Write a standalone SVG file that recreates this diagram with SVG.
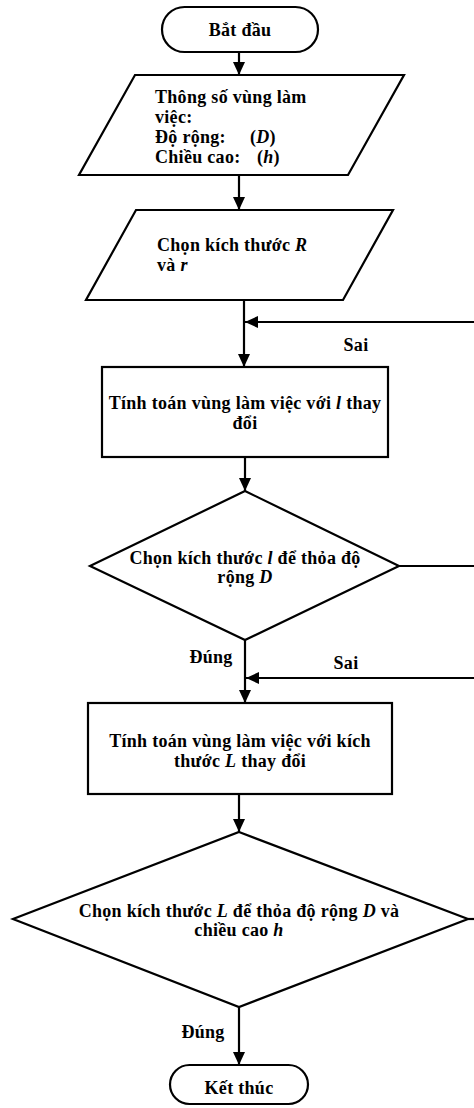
<svg xmlns="http://www.w3.org/2000/svg" width="474" height="1108" viewBox="0 0 474 1108">
<defs>
<marker id="arr" markerUnits="userSpaceOnUse" markerWidth="14" markerHeight="12" refX="13" refY="6" orient="auto">
<path d="M0,0 L13,6 L0,12 Z" fill="#000"/>
</marker>
<style>
.shape{fill:#fff;stroke:#000;stroke-width:2.2}
.line{fill:none;stroke:#000;stroke-width:2.2}
text{font-family:"Liberation Serif","Times New Roman",serif;font-weight:bold;font-size:18px;letter-spacing:0.3px;fill:#000}
.c{text-anchor:middle}
.i{font-style:italic}
</style>
</defs>
<rect width="474" height="1108" fill="#fff"/>
<g id="connectors">
<line class="line" x1="239" y1="52" x2="239" y2="75" marker-end="url(#arr)"/>
<line class="line" x1="239" y1="175" x2="239" y2="210" marker-end="url(#arr)"/>
<line class="line" x1="244" y1="300" x2="244" y2="367" marker-end="url(#arr)"/>
<line class="line" x1="474" y1="322" x2="245" y2="322" marker-end="url(#arr)"/>
<line class="line" x1="245" y1="457" x2="245" y2="491" marker-end="url(#arr)"/>
<line class="line" x1="399" y1="566" x2="474" y2="566"/>
<line class="line" x1="245" y1="640" x2="245" y2="703" marker-end="url(#arr)"/>
<line class="line" x1="474" y1="678" x2="246" y2="678" marker-end="url(#arr)"/>
<line class="line" x1="239" y1="794" x2="239" y2="832" marker-end="url(#arr)"/>
<line class="line" x1="468" y1="919" x2="474" y2="919"/>
<line class="line" x1="239" y1="1007" x2="239" y2="1065" marker-end="url(#arr)"/>
<text class="c" x="356" y="351">Sai</text>
<text class="c" x="211" y="663">Đúng</text>
<text class="c" x="346" y="669">Sai</text>
<text class="c" x="203" y="1038">Đúng</text>
</g>
<g id="start">
<rect class="shape" x="162" y="7" width="156" height="45" rx="22.5"/>
<text class="c" x="240" y="36">Bắt đầu</text>
</g>
<g id="input1">
<polygon class="shape" points="135,75 404,75 348,175 79,175"/>
<text x="155" y="103">Thông số vùng làm</text>
<text x="155" y="123">việc:</text>
<text x="155" y="143">Độ rộng:</text>
<text x="250" y="143">(<tspan class="i">D</tspan>)</text>
<text x="155" y="163">Chiều cao:</text>
<text x="257" y="163">(<tspan class="i">h</tspan>)</text>
</g>
<g id="input2">
<polygon class="shape" points="136,210 393,210 343,300 86,300"/>
<text x="157" y="251">Chọn kích thước <tspan class="i">R</tspan></text>
<text x="157" y="271">và <tspan class="i">r</tspan></text>
</g>
<g id="process1">
<rect class="shape" x="102" y="367" width="286" height="90"/>
<text class="c" x="245" y="409">Tính toán vùng làm việc với <tspan class="i">l</tspan> thay</text>
<text class="c" x="245" y="429">đổi</text>
</g>
<g id="decision1">
<polygon class="shape" points="245,491 399,566 245,640 90,566"/>
<text class="c" x="245" y="564">Chọn kích thước <tspan class="i">l</tspan> để thỏa độ</text>
<text class="c" x="245" y="583">rộng <tspan class="i">D</tspan></text>
</g>
<g id="process2">
<rect class="shape" x="88" y="703" width="304" height="91"/>
<text class="c" x="240" y="747">Tính toán vùng làm việc với kích</text>
<text class="c" x="240" y="767">thước <tspan class="i">L</tspan> thay đổi</text>
</g>
<g id="decision2">
<polygon class="shape" points="239,832 468,919 239,1007 13,919"/>
<text class="c" x="239" y="917">Chọn kích thước <tspan class="i">L</tspan> để thỏa độ rộng <tspan class="i">D</tspan> và</text>
<text class="c" x="239" y="936">chiều cao <tspan class="i">h</tspan></text>
</g>
<g id="end">
<rect class="shape" x="170" y="1065" width="138" height="39" rx="19.5"/>
<text class="c" x="239" y="1094">Kết thúc</text>
</g>
</svg>
